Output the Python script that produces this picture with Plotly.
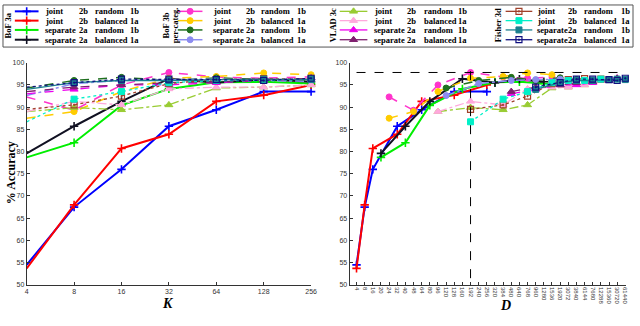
import plotly.graph_objects as go

W, H = 640, 326

# ---- data -------------------------------------------------------------
K = [4, 8, 16, 32, 64, 128, 256]

D_TICKS = [4, 8, 16, 20, 24, 32, 40, 48, 64, 80, 96, 120, 128, 160, 192, 240,
           256, 320, 384, 480, 640, 768, 960, 1280, 1536, 1920, 3072, 3840,
           6144, 7680, 12288, 15360, 30720, 61440]

# descriptor size D for each K, per method
D_BOF_JOINT = [4, 8, 16, 32, 64, 128, 256]
D_BOF_SEP = [20, 40, 80, 160, 320, 640, 1280]
D_PC_JOINT = [24, 48, 96, 192, 384, 768, 1536]
D_PC_SEP = [120, 240, 480, 960, 1920, 3840, 7680]
D_VLAD_JOINT = [96, 192, 384, 768, 1536, 3072, 6144]
D_VLAD_SEP = [480, 960, 1920, 3840, 7680, 15360, 30720]
D_FV_JOINT = [192, 384, 768, 1536, 3072, 6144, 12288]
D_FV_SEP = [960, 1920, 3840, 7680, 15360, 30720, 61440]

# % accuracy
bof_joint_random = [54.5, 67.5, 76.0, 85.7, 89.4, 93.5, 93.5]
bof_joint_balanced = [53.7, 68.0, 80.7, 83.9, 91.3, 92.7, 95.0]
bof_sep_random = [78.7, 82.0, 90.4, 94.1, 95.6, 95.7, 95.3]
bof_sep_balanced = [79.6, 85.7, 91.3, 96.4, 95.5, 96.3, 95.7]

pc_joint_random = [92.3, 89.3, 95.0, 97.8, 96.8, 96.5, 96.8]
pc_joint_balanced = [87.5, 89.0, 93.5, 96.5, 96.9, 97.7, 97.3]
pc_sep_random = [94.3, 96.0, 96.7, 96.0, 96.6, 96.2, 96.0]
pc_sep_balanced = [92.6, 95.3, 96.0, 96.2, 96.3, 96.0, 95.8]

vlad_joint_random = [89.0, 89.9, 89.4, 90.5, 94.3, 94.5, 95.0]
vlad_joint_balanced = [89.0, 91.3, 90.5, 94.1, 94.5, 94.5, 95.0]
vlad_sep_random = [93.0, 94.0, 95.0, 95.0, 95.5, 96.0, 96.5]
vlad_sep_balanced = [93.5, 94.5, 95.0, 95.5, 95.7, 96.0, 96.5]

fv_joint_random = [89.5, 90.5, 92.5, 95.3, 96.2, 96.4, 96.3]
fv_joint_balanced = [86.7, 91.8, 93.5, 95.5, 96.0, 96.0, 96.3]
fv_sep_random = [94.0, 95.5, 96.0, 96.0, 96.2, 96.3, 96.2]
fv_sep_balanced = [94.5, 95.5, 96.3, 96.3, 96.2, 96.0, 96.5]

GROUP_LABELS = [["BoF 3a"], ["BoF 3b", "per-categ."], ["VLAD 3c"], ["Fisher 3d"]]
ROW_TEXT = [("joint", "2b", "random", "1b"),
            ("joint", "2b", "balanced", "1a"),
            ("separate", "2a", "random", "1b"),
            ("separate", "2a", "balanced", "1a")]

series = [
    # BoF 3a
    dict(y=bof_joint_random, d=D_BOF_JOINT, color="#0000ff", dash="solid", sym="cross-thin", lw=2),
    dict(y=bof_joint_balanced, d=D_BOF_JOINT, color="#ff0000", dash="solid", sym="cross-thin", lw=2),
    dict(y=bof_sep_random, d=D_BOF_SEP, color="#00ee00", dash="solid", sym="cross-thin", lw=2),
    dict(y=bof_sep_balanced, d=D_BOF_SEP, color="#111122", dash="solid", sym="cross-thin", lw=2),
    # BoF 3b per-categ.
    dict(y=pc_joint_random, d=D_PC_JOINT, color="#ff33cc", dash="dash", sym="circle", lw=1.5),
    dict(y=pc_joint_balanced, d=D_PC_JOINT, color="#ffcc00", dash="dash", sym="circle", lw=1.5),
    dict(y=pc_sep_random, d=D_PC_SEP, color="#1f6f1f", dash="dash", sym="circle", lw=1.5),
    dict(y=pc_sep_balanced, d=D_PC_SEP, color="#8c8cf0", dash="dashdot", sym="circle", lw=1.5),
    # VLAD 3c
    dict(y=vlad_joint_random, d=D_VLAD_JOINT, color="#99cc33", dash="dashdot", sym="triangle-up", lw=1.3),
    dict(y=vlad_joint_balanced, d=D_VLAD_JOINT, color="#ffa8dc", dash="dashdot", sym="triangle-up", lw=1.3),
    dict(y=vlad_sep_random, d=D_VLAD_SEP, color="#ee00ee", dash="dash", sym="triangle-up", lw=1.3),
    dict(y=vlad_sep_balanced, d=D_VLAD_SEP, color="#7f1f6f", dash="dash", sym="triangle-up", lw=1.3),
    # Fisher 3d
    dict(y=fv_joint_random, d=D_FV_JOINT, color="#a0402a", dash="dot", sym="square-open-dot", lw=1.3),
    dict(y=fv_joint_balanced, d=D_FV_JOINT, color="#00f0c8", dash="dot", sym="square", lw=1.3),
    dict(y=fv_sep_random, d=D_FV_SEP, color="#1a7f8f", dash="solid", sym="square", lw=1.3),
    dict(y=fv_sep_balanced, d=D_FV_SEP, color="#101080", dash="dot", sym="square-open-dot", lw=1.3),
]

# ---- layout in pixels -------------------------------------------------
PLOT_TOP, PLOT_BOT = 60, 287
LEFT_X = (25, 313)
RIGHT_X = (352, 632)


def px(x):
    return x / W


def py(y):
    return 1 - y / H


def marker_for(s):
    m = dict(symbol=s["sym"], size=6, color=s["color"],
             line=dict(color=s["color"], width=1))
    if s["sym"] == "cross-thin":
        m.update(size=6, line=dict(color=s["color"], width=1.6))
    if s["sym"] == "square-open-dot":
        m.update(size=6, line=dict(color=s["color"], width=1.2))
    if s["sym"] == "triangle-up":
        m.update(size=7)
    return m


fig = go.Figure()

for s in series:
    fig.add_trace(go.Scatter(x=K, y=s["y"], mode="lines+markers",
                             line=dict(color=s["color"], width=s["lw"], dash=s["dash"]),
                             marker=marker_for(s), cliponaxis=False,
                             xaxis="x", yaxis="y", showlegend=False))
for s in series:
    fig.add_trace(go.Scatter(x=[str(d) for d in s["d"]], y=s["y"], mode="lines+markers",
                             line=dict(color=s["color"], width=s["lw"], dash=s["dash"]),
                             marker=marker_for(s), cliponaxis=False,
                             xaxis="x2", yaxis="y2", showlegend=False))

# best result reference lines (right panel)
best = max((v, s["d"][i]) for s in series for i, v in enumerate(s["y"]))
best_idx = D_TICKS.index(best[1])

# ---- manual legend on a pixel overlay axis ----------------------------
ROWS_Y = [7.5, 17, 26.5, 36.5]
GROUPS = [
    dict(lab=[6], sx=(13, 37), cols=[42, 76, 92, 128]),
    dict(lab=[166, 175], sx=(178, 203), cols=[212, 245, 260, 297]),
    dict(lab=[335], sx=(342, 370), cols=[375, 408, 425, 460]),
    dict(lab=[502], sx=(510, 537), cols=[540, 571, 587, 625]),
]
LEG_FONT = dict(family="Liberation Serif, DejaVu Serif, serif", size=8.5, color="black")

annotations = []
for g, grp in enumerate(GROUPS):
    for j, lx in enumerate(grp["lab"]):
        annotations.append(dict(x=lx, y=(ROWS_Y[0] + ROWS_Y[-1]) / 2, xref="x3", yref="y3",
                                text="<b>%s</b>" % GROUP_LABELS[g][j], textangle=-90,
                                xanchor="center", yanchor="middle",
                                showarrow=False, font=LEG_FONT))
    for r in range(4):
        s = series[g * 4 + r]
        y0 = ROWS_Y[r]
        x0, x1 = grp["sx"]
        fig.add_trace(go.Scatter(x=[x0, x1], y=[y0, y0], mode="lines",
                                 line=dict(color=s["color"], width=s["lw"]),
                                 xaxis="x3", yaxis="y3", showlegend=False, hoverinfo="skip"))
        fig.add_trace(go.Scatter(x=[(x0 + x1) / 2], y=[y0], mode="markers",
                                 marker=marker_for(s), cliponaxis=False,
                                 xaxis="x3", yaxis="y3", showlegend=False, hoverinfo="skip"))
        for c, txt in enumerate(ROW_TEXT[r]):
            annotations.append(dict(x=grp["cols"][c], y=y0, xref="x3", yref="y3",
                                    text="<b>%s</b>" % txt, xanchor="left", yanchor="middle",
                                    showarrow=False, font=LEG_FONT))

# axis titles
TITLE_FONT = dict(family="Liberation Serif, serif", size=14, color="black")
annotations += [
    dict(x=px(9), y=py(172), xref="paper", yref="paper", text="<b>% Accuracy</b>",
         textangle=-90, showarrow=False, xanchor="center", yanchor="middle",
         font=dict(TITLE_FONT, size=12)),
    dict(x=px(168), y=py(306), xref="paper", yref="paper", text="<b><i>K</i></b>",
         showarrow=False, xanchor="center", yanchor="middle", font=TITLE_FONT),
    dict(x=px(510), y=py(308), xref="paper", yref="paper", text="<b><i>D</i></b>",
         showarrow=False, xanchor="center", yanchor="middle", font=TITLE_FONT),
]

shapes = [
    dict(type="rect", xref="x3", yref="y3", x0=1, x1=639, y0=1, y1=44,
         line=dict(color="#555555", width=1)),
    dict(type="line", xref="x2", yref="y2", x0=0, x1=33.1, y0=best[0], y1=best[0],
         line=dict(color="black", width=1, dash="dash")),
    dict(type="line", xref="x2", yref="y2", x0=best_idx, x1=best_idx, y0=51.5, y1=100.4,
         line=dict(color="black", width=1, dash="dash")),
]

TICK_FONT = dict(family="Liberation Sans, Arial, sans-serif", size=7, color="#333333")
yax = dict(range=[50, 100], tickvals=list(range(50, 101, 5)), showgrid=False, zeroline=False,
           showline=True, linecolor="#333333", linewidth=1, ticks="inside", ticklen=3,
           tickcolor="#333333", tickfont=TICK_FONT, domain=[py(PLOT_BOT), py(PLOT_TOP)])

fig.update_layout(
    width=W, height=H, margin=dict(l=0, r=0, t=0, b=0),
    paper_bgcolor="white", plot_bgcolor="rgba(0,0,0,0)", showlegend=False,
    xaxis=dict(type="log", range=[0.60206, 2.40824], tickvals=K, ticktext=[str(k) for k in K],
               domain=[px(LEFT_X[0]), px(LEFT_X[1])], showgrid=False, zeroline=False,
               showline=True, linecolor="#333333", linewidth=1, ticks="inside", ticklen=3,
               tickcolor="#333333", tickfont=TICK_FONT, anchor="y"),
    yaxis=dict(yax, anchor="x"),
    xaxis2=dict(type="category", categoryorder="array", categoryarray=[str(d) for d in D_TICKS],
                range=[-0.85, 33.1], tickangle=90,
                domain=[px(RIGHT_X[0]), px(RIGHT_X[1])], showgrid=False, zeroline=False,
                showline=True, linecolor="#333333", linewidth=1, ticks="inside", ticklen=3,
                tickcolor="#333333", tickfont=dict(TICK_FONT, size=6), anchor="y2"),
    yaxis2=dict(yax, anchor="x2"),
    xaxis3=dict(range=[0, W], domain=[0, 1], visible=False, anchor="y3"),
    yaxis3=dict(range=[H, 0], domain=[0, 1], visible=False, anchor="x3"),
    annotations=annotations, shapes=shapes,
)

fig.write_html("out.html", config={"displayModeBar": False},
               post_script="document.body.style.margin='0';document.body.style.padding='0';")
